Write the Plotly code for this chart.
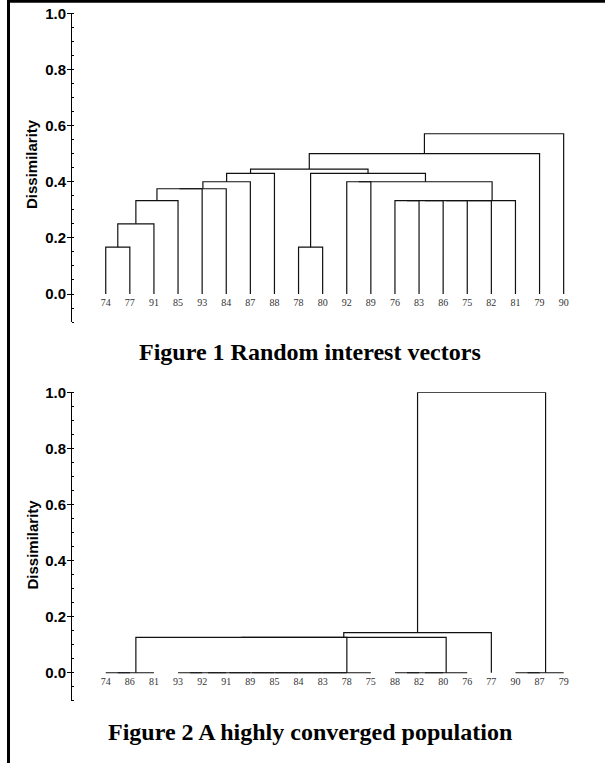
import plotly.graph_objects as go

W, H = 605, 763

# ---------------- data ----------------
leaves1 = ["74", "77", "91", "85", "93", "84", "87", "88", "78", "80",
           "92", "89", "76", "83", "86", "75", "82", "81", "79", "90"]
# (left, right, height); integers refer to earlier merges
merges1 = [
    ("74", "77", 0.167),
    (0, "91", 0.25),
    (1, "85", 0.333),
    (2, "93", 0.375),
    (3, "84", 0.375),
    (4, "87", 0.40),
    (5, "88", 0.43),
    ("78", "80", 0.167),
    ("92", "89", 0.40),
    ("76", "83", 0.333),
    (9, "86", 0.333),
    (10, "75", 0.333),
    (11, "82", 0.333),
    (12, "81", 0.333),
    (8, 13, 0.40),
    (7, 14, 0.43),
    (6, 15, 0.445),
    (16, "79", 0.50),
    (17, "90", 0.571),
]

leaves2 = ["74", "86", "81", "93", "92", "91", "89", "85", "84", "83",
           "78", "75", "88", "82", "80", "76", "77", "90", "87", "79"]
merges2 = [
    ("74", "86", 0.0),
    (0, "81", 0.0),
    ("93", "92", 0.0),
    (2, "91", 0.0),
    (3, "89", 0.0),
    (4, "85", 0.0),
    (5, "84", 0.0),
    (6, "83", 0.0),
    (7, "78", 0.0),
    (8, "75", 0.0),
    (1, 9, 0.126),
    ("88", "82", 0.0),
    (11, "80", 0.0),
    (12, "76", 0.0),
    (10, 13, 0.126),
    (14, "77", 0.143),
    ("90", "87", 0.0),
    (16, "79", 0.0),
    (15, 17, 1.0),
]

y_ticks = [0.0, 0.2, 0.4, 0.6, 0.8, 1.0]
captions = ["Figure 1 Random interest vectors",
            "Figure 2 A highly converged population"]
y_title = "Dissimilarity"


def dendro_lines(leaves, merges):
    pos = {lab: i for i, lab in enumerate(leaves)}
    nodes = []  # (x, h)
    xs, ys = [], []

    def get(ref):
        if isinstance(ref, int):
            return nodes[ref]
        return (pos[ref], 0.0)

    for a, b, h in merges:
        xa, ha = get(a)
        xb, hb = get(b)
        xs += [xa, xa, xb, xb, None]
        ys += [ha, h, h, hb, None]
        nodes.append(((xa + xb) / 2.0, h))
    return xs, ys


fig = go.Figure()

x1, y1 = dendro_lines(leaves1, merges1)
x2, y2 = dendro_lines(leaves2, merges2)

line_style = dict(color="#111111", width=1.2)
fig.add_trace(go.Scatter(x=x1, y=y1, mode="lines", line=line_style,
                         xaxis="x", yaxis="y", hoverinfo="skip", showlegend=False))
fig.add_trace(go.Scatter(x=x2, y=y2, mode="lines", line=line_style,
                         xaxis="x2", yaxis="y2", hoverinfo="skip", showlegend=False))


def px_x(p):
    return p / W


def px_y(p):
    return 1 - p / H


xdom = [px_x(72), px_x(573.3)]
xrange_ = [-1.4, 19.4]
yrange_ = [-0.1, 1.0]

leaf_font = dict(family="Liberation Serif", size=10, color="#333333")
tick_font = dict(family="Liberation Sans", size=15, color="black", weight=700)


def xaxis_cfg(leaves, zero_px):
    return dict(domain=xdom, range=xrange_, anchor="free", position=px_y(zero_px),
                automargin=False,
                showline=False, showgrid=False, zeroline=False, ticks="",
                tickmode="array", tickvals=list(range(len(leaves))),
                ticktext=leaves, tickfont=leaf_font, tickangle=0,
                ticklabelstandoff=1)


def yleft_cfg(xref, dom):
    return dict(domain=dom, range=yrange_, anchor=xref, showline=True,
                automargin=False,
                linecolor="black", linewidth=1, showgrid=False, zeroline=False,
                tickmode="array", tickvals=y_ticks,
                ticktext=["%.1f" % v for v in y_ticks], tickfont=tick_font,
                ticks="outside", ticklen=4, tickcolor="black", tickwidth=1,
                ticklabelstandoff=-2,
                minor=dict(tickmode="linear", tick0=0, dtick=0.05, ticks="inside",
                           ticklen=2, tickcolor="black", tickwidth=1, showgrid=False))


def yright_cfg(xref, over):
    return dict(overlaying=over, side="right", anchor=xref, range=yrange_,
                automargin=False,
                showline=True, linecolor="#666666", linewidth=1.5,
                showgrid=False, zeroline=False, showticklabels=False,
                tickmode="array", tickvals=y_ticks, ticks="inside", ticklen=4,
                tickcolor="#333333",
                minor=dict(tickmode="linear", tick0=0, dtick=0.05, ticks="inside",
                           ticklen=2, tickcolor="#333333", showgrid=False))


dom1 = [px_y(322.1), px_y(13.3)]
dom2 = [px_y(700.8), px_y(392.3)]

fig.update_layout(
    width=W, height=H, autosize=False,
    margin=dict(l=0, r=0, t=0, b=0, pad=0, autoexpand=False),
    paper_bgcolor="white", plot_bgcolor="rgba(0,0,0,0)",
    xaxis=xaxis_cfg(leaves1, 294.0),
    xaxis2=xaxis_cfg(leaves2, 672.7),
    yaxis=yleft_cfg("x", dom1),
    yaxis2=yleft_cfg("x2", dom2),
    yaxis3=yright_cfg("x", "y"),
    yaxis4=yright_cfg("x2", "y2"),
)

annos = []
for cap, cy in zip(captions, [352, 732]):
    annos.append(dict(text="<b>%s</b>" % cap, xref="paper", yref="paper",
                      x=px_x(310), y=px_y(cy), showarrow=False,
                      xanchor="center", yanchor="middle",
                      font=dict(family="Liberation Serif", size=24, color="black")))
for cy in [164.5, 545]:
    annos.append(dict(text="<b>%s</b>" % y_title, xref="paper", yref="paper",
                      x=px_x(31.5), y=px_y(cy), showarrow=False, textangle=-90,
                      xanchor="center", yanchor="middle",
                      font=dict(family="Liberation Sans", size=15, color="black")))
fig.update_layout(annotations=annos)

# page border (left and top)
fig.update_layout(shapes=[
    dict(type="line", xref="paper", yref="paper", x0=px_x(8.5), x1=px_x(8.5),
         y0=0, y1=1, line=dict(color="black", width=3)),
    dict(type="line", xref="paper", yref="paper", x0=px_x(7), x1=1,
         y0=px_y(1.2), y1=px_y(1.2), line=dict(color="black", width=3)),
])

post = (
    "document.documentElement.style.margin='0px';"
    "document.body.style.margin='0px';"
    "document.body.style.padding='0px';"
    "document.body.style.overflow='hidden';"
    "var gd=document.getElementById('{plot_id}');"
    "gd.style.position='absolute';gd.style.top='0px';gd.style.left='0px';"
)

fig.write_html("out.html", config={"displayModeBar": False}, post_script=post)
